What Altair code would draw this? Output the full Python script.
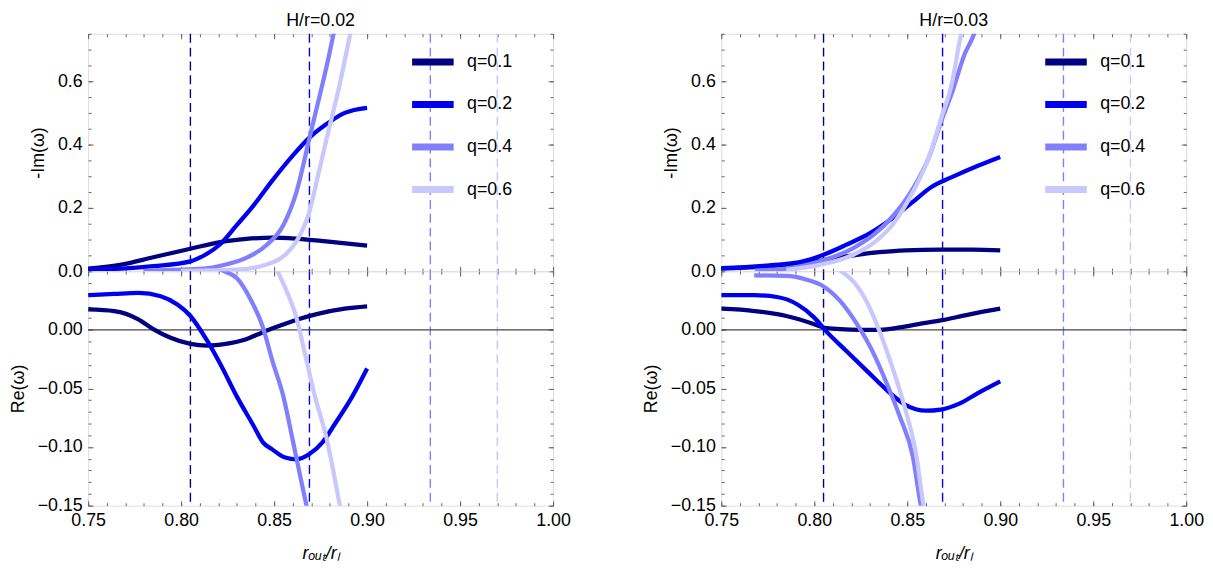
import altair as alt
import pandas as pd

FONT = "Liberation Sans"
TICK = "#666666"
FS = 18

q_labels = ["q=0.1", "q=0.2", "q=0.4", "q=0.6"]
q_colors = ["#000080", "#0000f0", "#8080ff", "#c8c8ff"]
# dashed vertical reference radii (one per q)
rl_x = [0.805, 0.869, 0.934, 0.970]

# ---------------- H/r = 0.02, -Im(omega) ----------------
im02_q01_x = [0.75, 0.768, 0.785, 0.805, 0.821, 0.835, 0.849, 0.863, 0.878, 0.90]
im02_q01_y = [0.008, 0.021, 0.044, 0.071, 0.092, 0.102, 0.106, 0.102, 0.094, 0.081]
im02_q02_x = [0.75, 0.768, 0.785, 0.805, 0.813, 0.821, 0.83, 0.839, 0.849, 0.86, 0.869, 0.878, 0.888, 0.90]
im02_q02_y = [0.005, 0.008, 0.016, 0.031, 0.052, 0.085, 0.146, 0.208, 0.286, 0.365, 0.422, 0.464, 0.50, 0.516]
im02_q04_x = [0.78, 0.795, 0.812, 0.824, 0.835, 0.846, 0.855, 0.862, 0.869, 0.874, 0.879, 0.882, 0.888]
im02_q04_y = [0.001, 0.004, 0.008, 0.021, 0.042, 0.083, 0.146, 0.25, 0.42, 0.542, 0.667, 0.75, 0.88]
im02_q06_x = [0.80, 0.812, 0.83, 0.846, 0.856, 0.863, 0.869, 0.874, 0.879, 0.885, 0.891, 0.895]
im02_q06_y = [0.001, 0.002, 0.005, 0.021, 0.052, 0.104, 0.188, 0.3125, 0.4375, 0.583, 0.75, 0.85]

# ---------------- H/r = 0.02, Re(omega) ----------------
re02_q01_x = [0.75, 0.764, 0.777, 0.785, 0.794, 0.805, 0.814, 0.824, 0.835, 0.844, 0.853, 0.863, 0.874, 0.888, 0.90]
re02_q01_y = [0.0174, 0.016, 0.009, 0.0006, -0.0065, -0.012, -0.0135, -0.012, -0.008, -0.002, 0.0034, 0.009, 0.0138, 0.018, 0.020]
re02_q02_x = [0.75, 0.764, 0.777, 0.789, 0.798, 0.805, 0.814, 0.821, 0.83, 0.839, 0.844, 0.849, 0.856, 0.862, 0.869, 0.876, 0.883, 0.892, 0.90]
re02_q02_y = [0.0295, 0.0306, 0.0315, 0.0287, 0.0216, 0.0118, -0.0093, -0.029, -0.057, -0.082, -0.096, -0.102, -0.109, -0.1105, -0.106, -0.096, -0.0795, -0.057, -0.033]
re02_q04_x = [0.79, 0.81, 0.8236, 0.83, 0.837, 0.844, 0.849, 0.855, 0.86, 0.864, 0.867, 0.872]
re02_q04_y = [0.062, 0.058, 0.0497, 0.044, 0.027, 0.002, -0.026, -0.057, -0.094, -0.1245, -0.147, -0.18]
re02_q06_x = [0.845, 0.852, 0.856, 0.862, 0.867, 0.872, 0.878, 0.883, 0.885, 0.89]
re02_q06_y = [0.072, 0.0497, 0.0357, 0.0104, -0.0233, -0.057, -0.091, -0.130, -0.147, -0.17]

# ---------------- H/r = 0.03, -Im(omega) ----------------
im03_q01_x = [0.75, 0.777, 0.803, 0.821, 0.835, 0.849, 0.868, 0.885, 0.90]
im03_q01_y = [0.008, 0.016, 0.033, 0.05, 0.06, 0.066, 0.068, 0.068, 0.066]
im03_q02_x = [0.75, 0.777, 0.794, 0.805, 0.817, 0.83, 0.842, 0.853, 0.863, 0.874, 0.888, 0.90]
im03_q02_y = [0.010, 0.019, 0.031, 0.052, 0.083, 0.12, 0.167, 0.219, 0.266, 0.297, 0.333, 0.361]
im03_q04_x = [0.768, 0.785, 0.803, 0.821, 0.833, 0.842, 0.853, 0.862, 0.868, 0.874, 0.881, 0.886, 0.89]
im03_q04_y = [0.002, 0.008, 0.031, 0.073, 0.12, 0.172, 0.26, 0.365, 0.469, 0.5625, 0.6875, 0.75, 0.83]
im03_q06_x = [0.785, 0.803, 0.821, 0.833, 0.842, 0.853, 0.862, 0.868, 0.874, 0.879, 0.884]
im03_q06_y = [0.004, 0.02, 0.052, 0.094, 0.146, 0.25, 0.365, 0.479, 0.594, 0.75, 0.85]

# ---------------- H/r = 0.03, Re(omega) ----------------
re03_q01_x = [0.75, 0.768, 0.785, 0.80, 0.805, 0.814, 0.824, 0.835, 0.846, 0.856, 0.868, 0.883, 0.90]
re03_q01_y = [0.018, 0.016, 0.0118, 0.0048, 0.002, 0.0006, 0.0, 0.0, 0.002, 0.0048, 0.008, 0.013, 0.018]
re03_q02_x = [0.75, 0.768, 0.78, 0.791, 0.80, 0.807, 0.817, 0.828, 0.839, 0.849, 0.86, 0.868, 0.878, 0.888, 0.90]
re03_q02_y = [0.0295, 0.0295, 0.028, 0.0216, 0.0104, -0.0022, -0.0177, -0.0346, -0.0514, -0.064, -0.069, -0.068, -0.063, -0.054, -0.044]
re03_q04_x = [0.7677, 0.785, 0.796, 0.805, 0.814, 0.823, 0.832, 0.839, 0.846, 0.853, 0.857, 0.862]
re03_q04_y = [0.0464, 0.046, 0.0427, 0.037, 0.0245, 0.0048, -0.0205, -0.0458, -0.074, -0.108, -0.147, -0.18]
re03_q06_x = [0.80, 0.8147, 0.821, 0.828, 0.835, 0.842, 0.849, 0.855, 0.8585, 0.862]
re03_q06_y = [0.058, 0.0497, 0.0413, 0.0245, -0.0008, -0.032, -0.068, -0.108, -0.147, -0.17]

# axis tick positions
x_major = [0.75, 0.80, 0.85, 0.90, 0.95, 1.00]
x_minor = [0.75, 0.76, 0.77, 0.78, 0.79, 0.80, 0.81, 0.82, 0.83, 0.84, 0.85, 0.86, 0.87,
           0.88, 0.89, 0.90, 0.91, 0.92, 0.93, 0.94, 0.95, 0.96, 0.97, 0.98, 0.99, 1.00]
top_major = [0.0, 0.2, 0.4, 0.6]
top_minor = [0.0, 0.05, 0.1, 0.15, 0.2, 0.25, 0.3, 0.35, 0.4, 0.45, 0.5, 0.55, 0.6, 0.65, 0.7, 0.75]
bot_major = [-0.15, -0.10, -0.05, 0.0]
bot_minor = [-0.15, -0.14, -0.13, -0.12, -0.11, -0.10, -0.09, -0.08, -0.07, -0.06, -0.05, -0.04,
             -0.03, -0.02, -0.01, 0.0, 0.01, 0.02, 0.03, 0.04, 0.05]


def series_df(xs_list, ys_list):
    rows = []
    for i, (xs, ys) in enumerate(zip(xs_list, ys_list)):
        for a, b in zip(xs, ys):
            rows.append({"x": a, "y": b, "q": q_labels[i]})
    return pd.DataFrame(rows)


XS = alt.Scale(domain=[0.75, 1.0], nice=False, zero=False)
rules_df = pd.DataFrame({"x": rl_x, "c": q_colors})


def ax(orient, values, size, **kw):
    base = dict(orient=orient, values=values, tickSize=size, offset=-size, domain=False,
                grid=False, tickColor=TICK, tickWidth=1, labels=False, title=None,
                minExtent=0, maxExtent=200)
    base.update(kw)
    return alt.Axis(**base)


LAB = dict(labels=True, labelFont=FONT, labelFontSize=FS, labelColor="black",
           labelFlush=False, labelOverlap=False, labelPadding=6,
           titleFont=FONT, titleFontSize=FS, titleFontWeight="normal", titleColor="black")


def panel(df, part, title_text=None):
    if part == "top":
        ys = alt.Scale(domain=[0.0, 0.75], nice=False, zero=False)
        y_major, y_minor, fmt, ytitle, h = top_major, top_minor, ".1f", "-Im(ω)", 240
    else:
        ys = alt.Scale(domain=[-0.15, 0.05], nice=False, zero=False)
        y_major, y_minor, fmt, ytitle, h = bot_major, bot_minor, ".2f", "Re(ω)", 237

    dummy = pd.DataFrame({"x": [0.8], "y": [y_major[0]]})

    if part == "bottom":
        xlab = dict(LAB, format=".2f", title="rₒᵤₜ/rₗ", titleFontStyle="italic", titlePadding=15)
    else:
        xlab = {}
    ylab = dict(LAB, format=fmt, title=ytitle, titlePadding=10)

    l1 = alt.Chart(dummy).mark_point(opacity=0, size=1).encode(
        x=alt.X("x:Q", scale=XS, axis=ax("bottom", x_major, 5, **xlab)),
        y=alt.Y("y:Q", scale=ys, axis=ax("left", y_major, 5, **ylab)))
    l2 = alt.Chart(dummy).mark_point(opacity=0, size=1).encode(
        x=alt.X("x:Q", scale=XS, axis=ax("bottom", x_minor, 3)),
        y=alt.Y("y:Q", scale=ys, axis=ax("left", y_minor, 3)))
    l3 = alt.Chart(dummy).mark_point(opacity=0, size=1).encode(
        x=alt.X("x:Q", scale=XS, axis=ax("top", x_major, 5)),
        y=alt.Y("y:Q", scale=ys, axis=ax("right", y_major, 5)))
    l4 = alt.Chart(dummy).mark_point(opacity=0, size=1).encode(
        x=alt.X("x:Q", scale=XS, axis=ax("top", x_minor, 3)),
        y=alt.Y("y:Q", scale=ys, axis=ax("right", y_minor, 3)))

    rules = alt.Chart(rules_df).mark_rule(strokeWidth=1.4, strokeDash=[9, 5]).encode(
        x=alt.X("x:Q", scale=XS, axis=None),
        color=alt.Color("c:N", scale=None))

    if part == "top":
        legend = alt.Legend(orient="none", legendX=324, legendY=4, title=None,
                            symbolType="stroke", symbolStrokeWidth=7, symbolSize=1764,
                            symbolOpacity=1, labelFont=FONT, labelFontSize=FS,
                            labelColor="black", labelOffset=10, rowPadding=4, padding=0,
                            direction="vertical")
    else:
        legend = None

    lines = alt.Chart(df).mark_line(strokeWidth=4.3, clip=True, interpolate="monotone").encode(
        x=alt.X("x:Q", scale=XS, axis=None),
        y=alt.Y("y:Q", scale=ys, axis=None),
        color=alt.Color("q:N", scale=alt.Scale(domain=q_labels, range=q_colors), legend=legend))

    layers = [rules]
    if part == "bottom":
        zero = alt.Chart(pd.DataFrame({"y": [0.0]})).mark_rule(color="#444444", strokeWidth=1.2).encode(
            y=alt.Y("y:Q", scale=ys, axis=None))
        layers.append(zero)
    layers += [lines, l1, l2, l3, l4]

    ch = alt.layer(*layers).resolve_axis(x="independent", y="independent")
    props = dict(width=470, height=h)
    if title_text:
        props["title"] = alt.TitleParams(title_text, font=FONT, fontSize=FS, fontWeight="normal",
                                         anchor="middle", frame="group", offset=3, color="black")
    return ch.properties(**props)


df_im02 = series_df([im02_q01_x, im02_q02_x, im02_q04_x, im02_q06_x],
                    [im02_q01_y, im02_q02_y, im02_q04_y, im02_q06_y])
df_re02 = series_df([re02_q01_x, re02_q02_x, re02_q04_x, re02_q06_x],
                    [re02_q01_y, re02_q02_y, re02_q04_y, re02_q06_y])
df_im03 = series_df([im03_q01_x, im03_q02_x, im03_q04_x, im03_q06_x],
                    [im03_q01_y, im03_q02_y, im03_q04_y, im03_q06_y])
df_re03 = series_df([re03_q01_x, re03_q02_x, re03_q04_x, re03_q06_x],
                    [re03_q01_y, re03_q02_y, re03_q04_y, re03_q06_y])

left = alt.vconcat(panel(df_im02, "top", "H/r=0.02"), panel(df_re02, "bottom"),
                   spacing=0, bounds="flush").resolve_scale(color="independent")
right = alt.vconcat(panel(df_im03, "top", "H/r=0.03"), panel(df_re03, "bottom"),
                    spacing=0, bounds="flush").resolve_scale(color="independent")

chart = (alt.hconcat(left, right, spacing=70)
         .resolve_scale(color="independent")
         .properties(padding={"left": 0, "top": 0, "right": 0, "bottom": 5}, background="white")
         .configure_view(stroke="#777777", strokeWidth=1)
         .configure(font=FONT))

chart.save("out.html", embed_options={"renderer": "svg", "actions": False})
